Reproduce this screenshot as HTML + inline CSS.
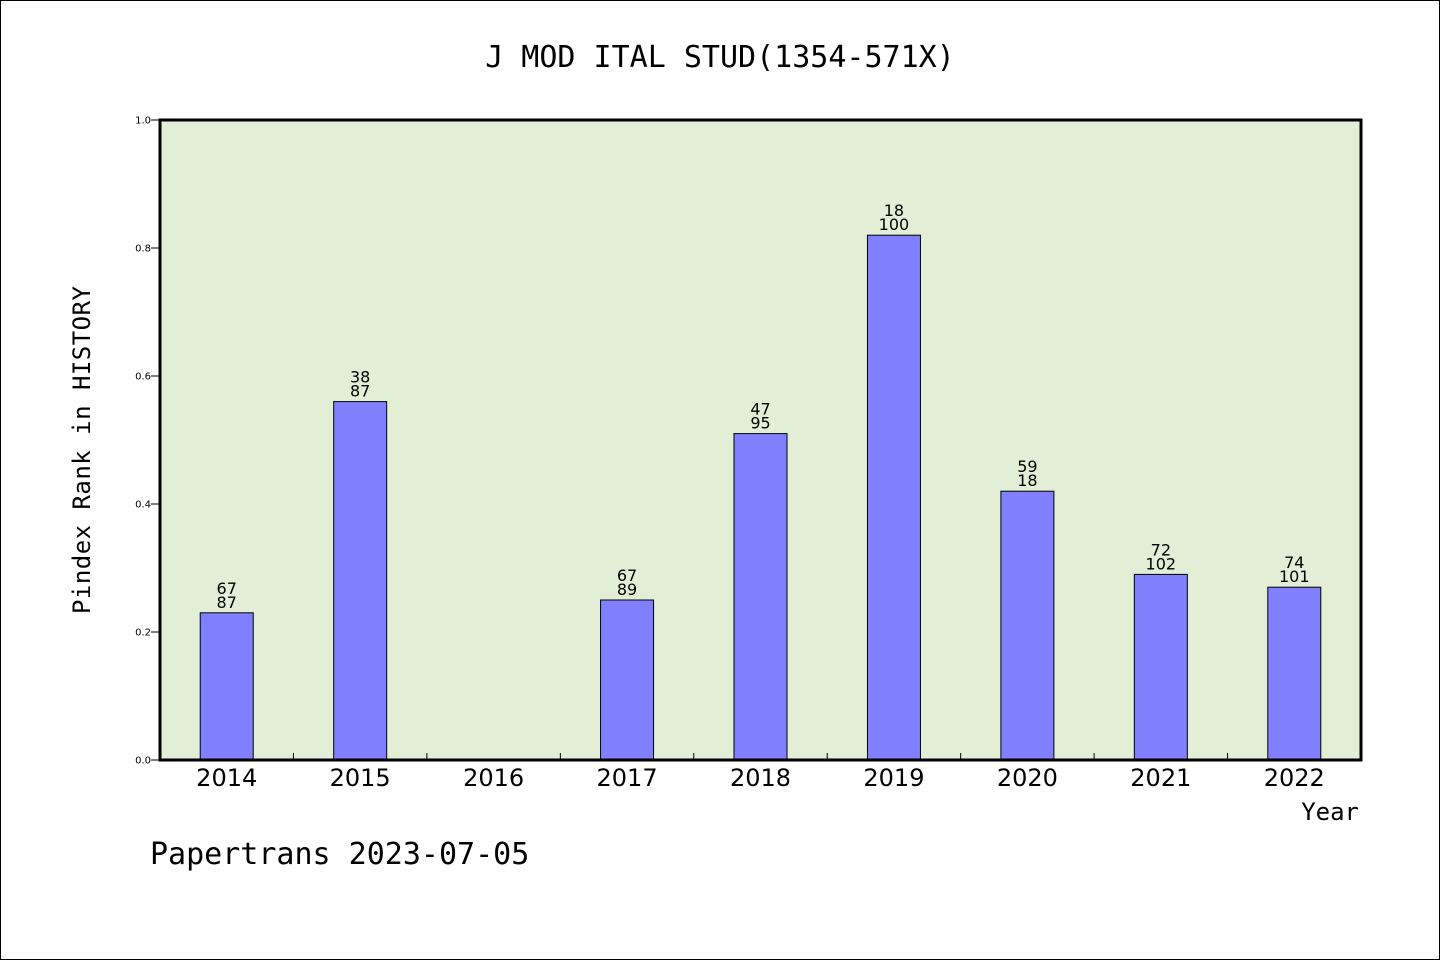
<!DOCTYPE html>
<html><head><meta charset="utf-8"><style>
html,body{margin:0;padding:0;background:#fff}
svg{display:block}
text{font-family:"WenQuanYi Zen Hei","DejaVu Sans Mono","Liberation Mono",monospace;fill:#000}
.sans{font-family:"DejaVu Sans","Liberation Sans",sans-serif}
</style></head><body>
<svg id="chart" width="1440" height="960">
<rect x="0.5" y="0.5" width="1439" height="959" fill="#fff" stroke="#000"/>
<text x="720" y="67" font-size="30" text-anchor="middle">J MOD ITAL STUD(1354-571X)</text>
<rect x="160" y="120" width="1201" height="640" fill="#e2efd6"/>
<g id="bars"></g>
<rect x="160" y="120" width="1201" height="640" fill="none" stroke="#000" stroke-width="3"/>
<g id="axes"></g>
<text x="90" y="450" font-size="24" text-anchor="middle" textLength="328" transform="rotate(-90 90 450)">Pindex Rank in HISTORY</text>
<text x="1359" y="820" font-size="24" text-anchor="end">Year</text>
<text x="150" y="864" font-size="30">Papertrans 2023-07-05</text>
</svg>
<script>
const categories = ["2014","2015","2016","2017","2018","2019","2020","2021","2022"];
const values = [0.23,0.56,null,0.25,0.51,0.82,0.42,0.29,0.27];
const topLabels = ["67","38","","67","47","18","59","72","74"];
const bottomLabels = ["87","87","","89","95","100","18","102","101"];
const yTicks = [0,0.2,0.4,0.6,0.8,1.0];
const NS="http://www.w3.org/2000/svg";
const X0=160,W=1201,Y0=760,H=640;
const step=W/categories.length;
const xC=i=>X0+step*(i+0.5);
const yS=v=>Y0-v*H;
function mk(t,a,p){const e=document.createElementNS(NS,t);for(const k in a)e.setAttribute(k,a[k]);p.appendChild(e);return e;}
const bars=document.getElementById('bars'),axes=document.getElementById('axes');
categories.forEach((c,i)=>{
  const v=values[i];
  if(v!==null){
    const r=mk('rect',{x:xC(i)-26.5,y:yS(v),width:53,height:Y0-yS(v),fill:'#8080ff',stroke:'#000','stroke-width':1},bars);
    
    
    const t1=mk('text',{x:xC(i),y:yS(v)-19,'font-size':16,'text-anchor':'middle','class':'sans'},bars);t1.textContent=topLabels[i];
    
    
    const t2=mk('text',{x:xC(i),y:yS(v)-5,'font-size':16,'text-anchor':'middle','class':'sans'},bars);t2.textContent=bottomLabels[i];
    
    
  }
  const xl=mk('text',{x:xC(i),y:786,'font-size':24,'text-anchor':'middle','class':'sans'},axes);xl.textContent=c;
  
  
  if(i>0){const tk=mk('line',{x1:X0+step*i,x2:X0+step*i,y1:Y0,y2:Y0-7,stroke:'#000'},axes);
    
    }
});
yTicks.forEach(v=>{
  const tk=mk('line',{x1:151,x2:160,y1:yS(v),y2:yS(v),stroke:'#000'},axes);
  
  
  const t=mk('text',{x:151,y:yS(v)+3.5,'font-size':10,'text-anchor':'end','class':'sans'},axes);t.textContent=v.toFixed(1);
  
  
});
</script>
</body></html>
